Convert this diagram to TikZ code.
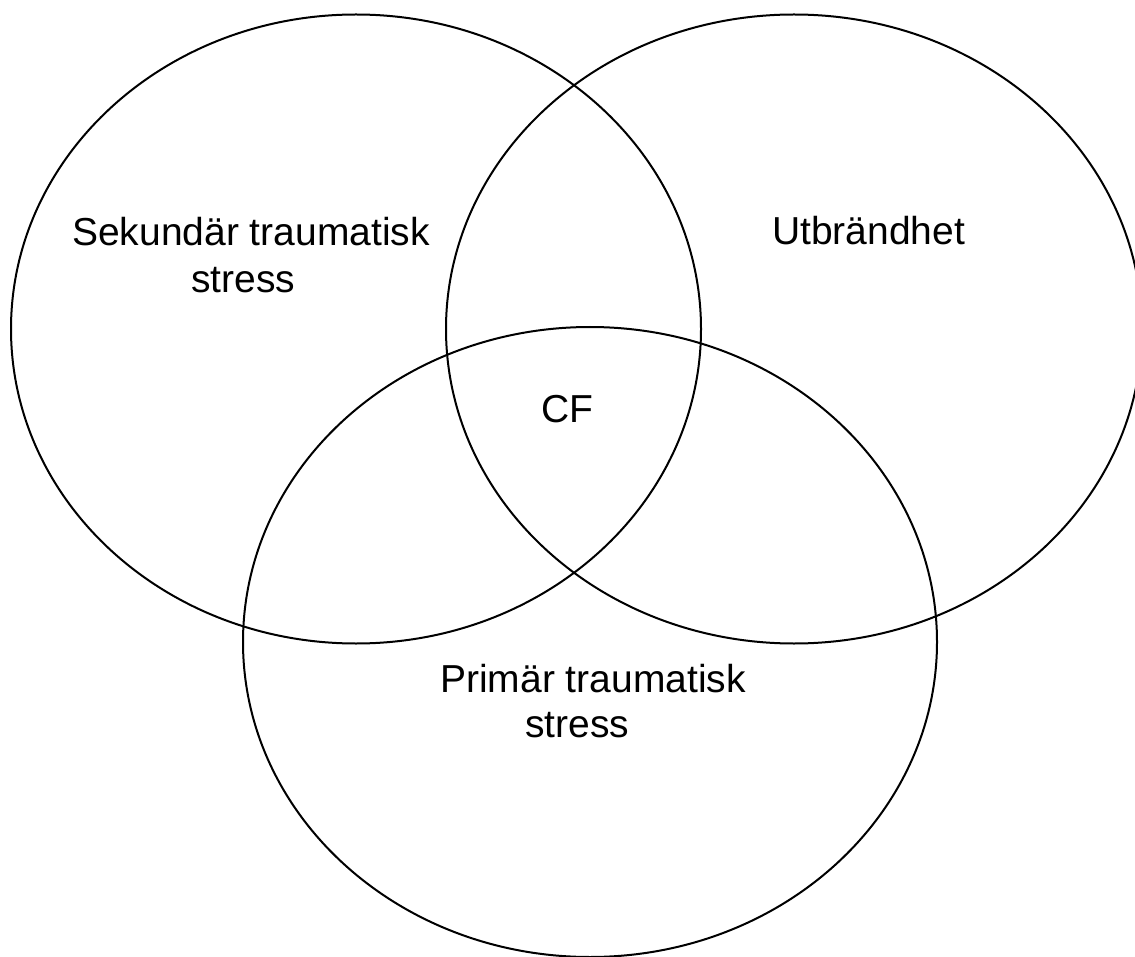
\documentclass[tikz,border=0pt]{standalone}
\usepackage{fontspec}
\setmainfont{Liberation Sans}
\begin{document}
\begin{tikzpicture}[x=1pt,y=-1pt,
  venn/.style={draw=black,line width=2pt},
  lbl/.style={anchor=base west,inner sep=0pt,font=\fontsize{39}{47}\selectfont}]
\useasboundingbox (0,0) rectangle (1135,957);
\draw[venn] (356,329) ellipse [x radius=345pt, y radius=314.5pt];
\draw[venn] (794,329) ellipse [x radius=348pt, y radius=314.5pt];
\draw[venn] (590,642) ellipse [x radius=347pt, y radius=315pt];
\node[lbl] (sts1) at (72,246) {Sekundär traumatisk};
\node[lbl] (sts2) at (191,292.5) {stress};
\node[lbl] (utb) at (772,245) {Utbrändhet};
\node[lbl] (cf) at (541.5,422) {CF};
\node[lbl] (pts1) at (440,692) {Primär traumatisk};
\node[lbl] (pts2) at (525,737.5) {stress};
\end{tikzpicture}
\end{document}
